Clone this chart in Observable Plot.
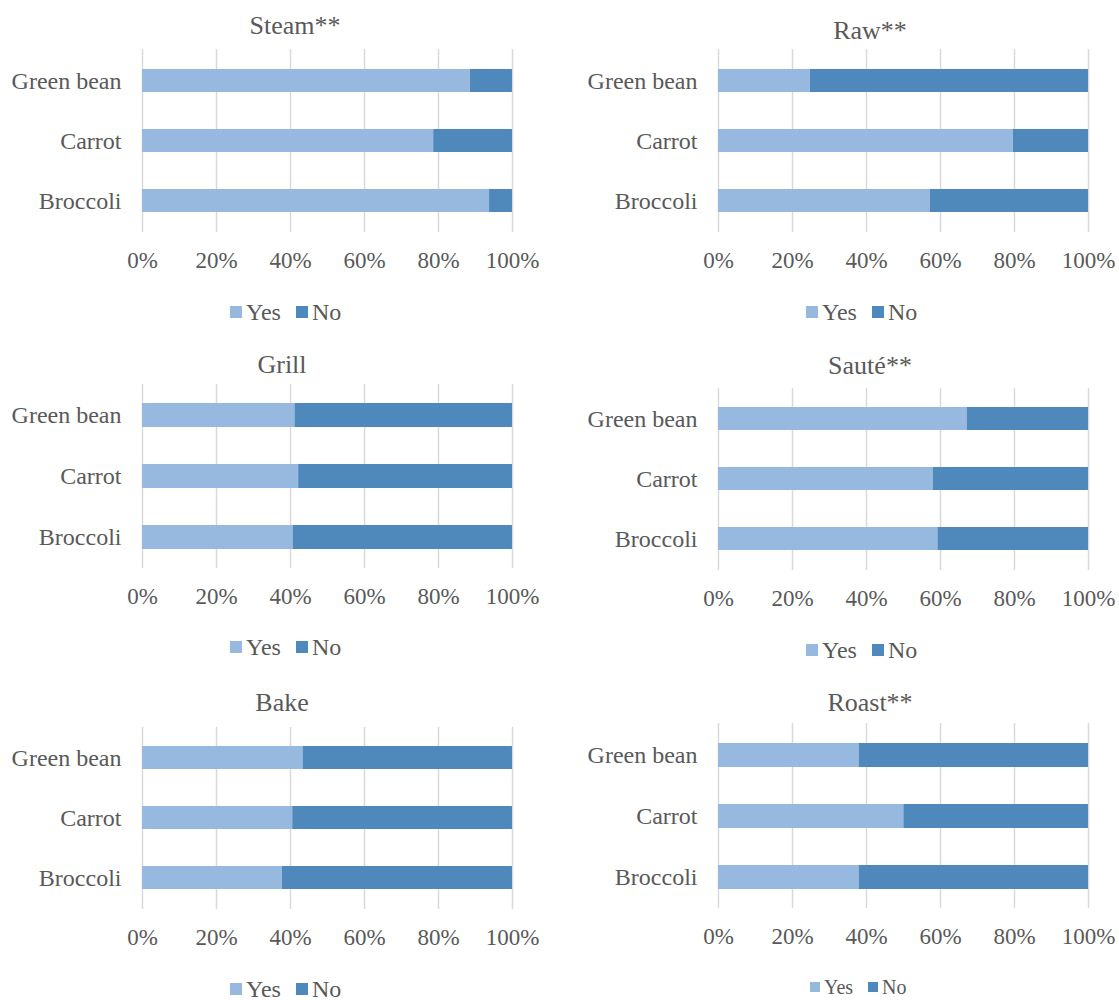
<!DOCTYPE html>
<html>
<head>
<meta charset="utf-8">
<script src="https://cdn.jsdelivr.net/npm/d3@7"></script>
<script src="https://cdn.jsdelivr.net/npm/@observablehq/plot@0.6"></script>
<style>
  body { margin: 0; background: #fff; }
  #chart { position: relative; width: 1119px; height: 1000px; font-family: "Liberation Serif", "Times New Roman", serif; color: #595959; }
  .title { position: absolute; font-size: 26px; line-height: 1; transform: translate(-50%, -50%); white-space: nowrap; }
  .legend { position: absolute; display: flex; align-items: center; line-height: 1; transform: translateY(-50%); white-space: nowrap; }
  .legend .sw { display: inline-block; margin-right: 4px; }
  .legend .item { display: flex; align-items: center; margin-right: 15px; }
  .panel { position: absolute; }
</style>
</head>
<body>
<div id="chart"></div>
<script>
// ---- data ----
const methods = ["Steam**", "Raw**", "Grill", "Sauté**", "Bake", "Roast**"];
const vegetables = ["Green bean", "Carrot", "Broccoli"];
const answers = ["Yes", "No"];
const answerColors = ["#98b9df", "#4f89bc"];
const xTicks = [0, 0.2, 0.4, 0.6, 0.8, 1];
// share answering "Yes" for Green bean, Carrot, Broccoli
const steamYes = [0.886, 0.787, 0.938];
const rawYes   = [0.248, 0.797, 0.572];
const grillYes = [0.412, 0.422, 0.407];
const sauteYes = [0.672, 0.580, 0.593];
const bakeYes  = [0.434, 0.406, 0.378];
const roastYes = [0.380, 0.501, 0.380];
const yesByMethod = [steamYes, rawYes, grillYes, sauteYes, bakeYes, roastYes];

// ---- layout (positions only) ----
const layout = [
  {left: 0,   width: 560, mL: 142, mR: 48, frameTop: 49,  frameH: 183, titleX: 295, titleY: 26,  legendX: 230, legendY: 312, legendFont: 24, sw: 12},
  {left: 560, width: 559, mL: 158, mR: 31, frameTop: 49,  frameH: 183, titleX: 870, titleY: 31,  legendX: 806, legendY: 312, legendFont: 24, sw: 12},
  {left: 0,   width: 560, mL: 142, mR: 48, frameTop: 384, frameH: 184, titleX: 282, titleY: 365, legendX: 230, legendY: 647, legendFont: 24, sw: 12},
  {left: 560, width: 559, mL: 158, mR: 31, frameTop: 388, frameH: 182, titleX: 870, titleY: 366, legendX: 806, legendY: 650, legendFont: 24, sw: 12},
  {left: 0,   width: 560, mL: 142, mR: 48, frameTop: 727, frameH: 182, titleX: 282, titleY: 703, legendX: 230, legendY: 989, legendFont: 24, sw: 12},
  {left: 560, width: 559, mL: 158, mR: 31, frameTop: 723, frameH: 185, titleX: 870, titleY: 703, legendX: 810, legendY: 987, legendFont: 20, sw: 10}
];

const chart = document.getElementById("chart");
const mTop = 5, mBottom = 55;

methods.forEach((method, i) => {
  const L = layout[i];
  const yes = yesByMethod[i];
  const rows = [];
  vegetables.forEach((veg, j) => {
    rows.push({veg, answer: "Yes", value: yes[j]});
    rows.push({veg, answer: "No", value: 1 - yes[j]});
  });

  const plot = Plot.plot({
    width: L.width,
    height: mTop + L.frameH + mBottom,
    marginLeft: L.mL,
    marginRight: L.mR,
    marginTop: mTop,
    marginBottom: mBottom,
    style: {fontFamily: '"Liberation Serif", "Times New Roman", serif', color: "#595959", background: "transparent", overflow: "visible"},
    x: {domain: [0, 1]},
    y: {domain: vegetables, paddingInner: 0.61, paddingOuter: 0.31},
    color: {domain: answers, range: answerColors},
    marks: [
      Plot.gridX(xTicks, {stroke: "#d9d9d9", strokeOpacity: 1, strokeWidth: 1.5}),
      Plot.barX(rows, Plot.stackX({x: "value", y: "veg", fill: "answer"})),
      Plot.axisX({ticks: xTicks, tickSize: 0, tickPadding: 19, fontSize: 23, tickFormat: d => Math.round(d * 100) + "%", label: null}),
      Plot.axisY({tickSize: 0, tickPadding: 21, fontSize: 24, label: null})
    ]
  });
  plot.classList.add("panel");
  plot.style.left = L.left + "px";
  plot.style.top = (L.frameTop - mTop) + "px";
  chart.appendChild(plot);

  const t = document.createElement("div");
  t.className = "title";
  t.textContent = method;
  t.style.left = L.titleX + "px";
  t.style.top = L.titleY + "px";
  chart.appendChild(t);

  const lg = document.createElement("div");
  lg.className = "legend";
  lg.style.left = L.legendX + "px";
  lg.style.top = L.legendY + "px";
  lg.style.fontSize = L.legendFont + "px";
  answers.forEach((a, k) => {
    const item = document.createElement("span");
    item.className = "item";
    const sw = document.createElement("span");
    sw.className = "sw";
    sw.style.width = L.sw + "px";
    sw.style.height = L.sw + "px";
    sw.style.background = answerColors[k];
    const tx = document.createElement("span");
    tx.textContent = a;
    item.appendChild(sw);
    item.appendChild(tx);
    lg.appendChild(item);
  });
  chart.appendChild(lg);
});
</script>
</body>
</html>
